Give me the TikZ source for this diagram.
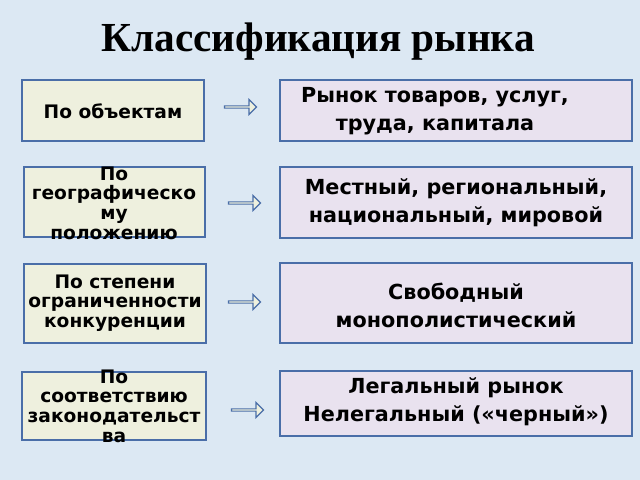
\documentclass[tikz,border=0pt]{standalone}
\usepackage{fontspec}
\setmainfont{DejaVu Sans}
\newfontfamily\titlefont{Liberation Serif}
\usetikzlibrary{shapes.arrows}
\definecolor{bg}{HTML}{DCE8F3}
\definecolor{lf}{HTML}{EEF0DE}
\definecolor{rf}{HTML}{E9E2EF}
\definecolor{bd}{HTML}{4A6EA8}
\begin{document}
\begin{tikzpicture}[x=0.02cm,y=-0.02cm,
 lbox/.style={draw=bd,line width=1.2pt,fill=lf,align=center,font=\bfseries\fontsize{10.6}{11.2}\selectfont},
 rbox/.style={draw=bd,line width=1.2pt,fill=rf,align=center,font=\bfseries\fontsize{11.8}{16}\selectfont},
 arr/.style={single arrow,draw=bd,fill=lf,line width=0.7pt,minimum height=0.64cm,minimum width=0.3cm,single arrow head extend=0.07cm,inner sep=0pt}]
\fill[bg] (0,0) rectangle (640,480);
\useasboundingbox (0,0) rectangle (640,480);
\node[font=\titlefont\bfseries\fontsize{23.5}{26}\selectfont] (t) at (318,42) {Классификация рынка};
\draw[lbox] (22,80) rectangle (204,141); \node[lbox,draw=none,fill=none] (l1) at (113,111) {По объектам};
\draw[lbox] (24,167) rectangle (205,237); \node[lbox,draw=none,fill=none] (l2) at (114,203) {По\\географическо\\му\\положению};
\draw[lbox] (24,264) rectangle (206,343); \node[lbox,draw=none,fill=none] (l3) at (115,303) {По степени\\ограниченности\\конкуренции};
\draw[lbox] (22,372) rectangle (206,440); \node[lbox,draw=none,fill=none] (l4) at (114,406) {По\\соответствию\\законодательст\\ва};
\draw[rbox] (280,80) rectangle (632,141); \node[rbox,draw=none,fill=none] (r1) at (435,111) {Рынок товаров, услуг,\\труда, капитала};
\draw[rbox] (280,167) rectangle (632,238); \node[rbox,draw=none,fill=none] (r2) at (456,203) {Местный, региональный,\\национальный, мировой};
\draw[rbox] (280,263) rectangle (632,343); \node[rbox,draw=none,fill=none] (r3) at (456,305) {Свободный\\монополистический};
\draw[rbox] (280,371) rectangle (632,436); \node[rbox,draw=none,fill=none] (r4) at (456,402) {Легальный рынок\\Нелегальный («черный»)};
\node[arr] (a1) at (240,107) {};
\node[arr] (a2) at (244,203) {};
\node[arr] (a3) at (244,302) {};
\node[arr] (a4) at (247,410) {};
\end{tikzpicture}
\end{document}
